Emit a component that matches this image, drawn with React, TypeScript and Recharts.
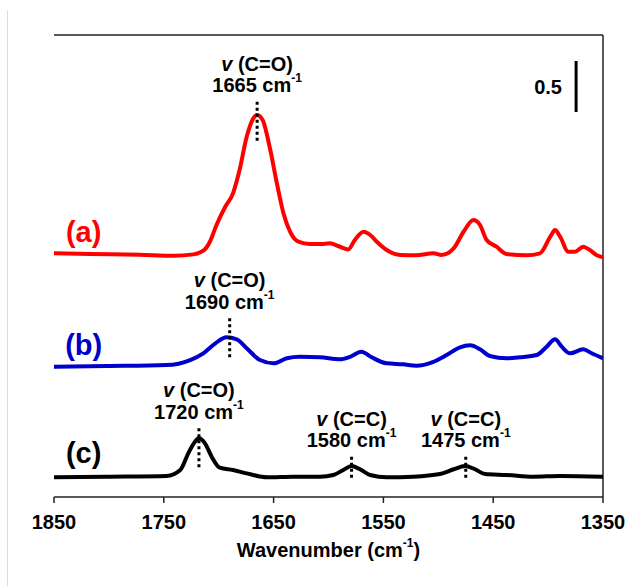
import React from "react";
import {
  LineChart,
  Line,
  XAxis,
  YAxis,
  ReferenceLine,
  ReferenceDot,
} from "recharts";

const FONT = "'Liberation Sans', Arial, sans-serif";

const xTicks = [1850, 1750, 1650, 1550, 1450, 1350];
const yMax = 4.53;

// (a) red spectrum
const redWn = [
  1850, 1817, 1772, 1741, 1723, 1714, 1708, 1702, 1694, 1687, 1681, 1674.5,
  1668.5, 1665, 1660, 1653, 1647, 1641, 1635, 1627.5, 1617, 1607, 1599,
  1589.5, 1582, 1576, 1568, 1562, 1556, 1547, 1535, 1520, 1504.5, 1497, 1486,
  1477, 1468, 1462, 1456, 1447, 1437.7, 1419.5, 1407.4, 1398, 1393.7, 1389,
  1381.6, 1375.5, 1368, 1362, 1356, 1350,
];
const redAbs = [
  2.389, 2.382, 2.375, 2.366, 2.379, 2.415, 2.503, 2.667, 2.846, 2.977, 3.206,
  3.532, 3.713, 3.745, 3.696, 3.402, 3.075, 2.781, 2.601, 2.503, 2.48, 2.48,
  2.487, 2.454, 2.428, 2.52, 2.601, 2.569, 2.503, 2.422, 2.373, 2.37, 2.389,
  2.373, 2.438, 2.601, 2.716, 2.667, 2.52, 2.454, 2.382, 2.37, 2.389, 2.552,
  2.618, 2.552, 2.405, 2.405, 2.454, 2.422, 2.373, 2.35,
];

// (b) blue spectrum
const blueWn = [
  1850, 1802, 1747.5, 1726, 1714, 1703, 1693, 1683.6, 1674.5, 1662.4, 1650,
  1638, 1626, 1607.7, 1589.5, 1580.4, 1570, 1560.7, 1547, 1532, 1520, 1504.5,
  1492.4, 1480.2, 1471, 1462, 1453, 1437.7, 1425.6, 1410.4, 1401.3, 1393.7,
  1387.6, 1380, 1368, 1360.3, 1350,
];
const blueAbs = [
  1.277, 1.284, 1.294, 1.343, 1.409, 1.507, 1.566, 1.546, 1.458, 1.343, 1.311,
  1.36, 1.375, 1.37, 1.35, 1.375, 1.425, 1.37, 1.311, 1.301, 1.287, 1.326,
  1.392, 1.468, 1.487, 1.448, 1.382, 1.36, 1.37, 1.392, 1.474, 1.546, 1.474,
  1.409, 1.448, 1.409, 1.36,
];

// (c) black spectrum
const blackWn = [
  1850, 1802, 1747.5, 1735, 1727.7, 1721.6, 1718, 1712.5, 1706.4, 1699, 1687,
  1674.5, 1656, 1632, 1607.7, 1595.6, 1586.5, 1579, 1571.3, 1562, 1547,
  1522.8, 1498.5, 1486, 1475.7, 1466.6, 1457.5, 1437.7, 1413.5, 1389, 1350,
];
const blackAbs = [
  0.193, 0.199, 0.206, 0.265, 0.428, 0.542, 0.575, 0.526, 0.395, 0.287, 0.265,
  0.232, 0.193, 0.199, 0.199, 0.216, 0.265, 0.304, 0.272, 0.216, 0.193, 0.199,
  0.225, 0.272, 0.304, 0.272, 0.225, 0.216, 0.199, 0.206, 0.199,
];

// peak annotations
const peakWn = [1665, 1690, 1718, 1579, 1475];
const peakBond = ["C=O", "C=O", "C=O", "C=C", "C=C"];
const peakText = ["1665", "1690", "1720", "1580", "1475"];
const peakTop = [3.875, 1.752, 0.673, 0.395, 0.395];
const peakBottom = [3.483, 1.35, 0.265, 0.167, 0.167];

// series tags
const tagText = ["(a)", "(b)", "(c)"];
const tagAbs = [2.6, 1.49, 0.43];
const tagColor = ["#ff0000", "#0000cc", "#000000"];
const tagWn = 1823;

// scale bar
const barWn = 1374.5;
const barFrom = 3.775;
const barTo = 4.275;

const toPoints = (wn: number[], abs: number[]) =>
  wn.map((w, i) => ({ wn: w, abs: abs[i] }));

const redData = toPoints(redWn, redAbs);
const blueData = toPoints(blueWn, blueAbs);
const blackData = toPoints(blackWn, blackAbs);

function PeakLabel(props: any) {
  const { viewBox, bond, num } = props;
  if (!viewBox) return null;
  const x = viewBox.x;
  const y = viewBox.y;
  return (
    <g fontFamily={FONT} fontWeight="bold" fontSize={20} fill="#000">
      <text x={x} y={y - 38} textAnchor="middle" dominantBaseline="central">
        <tspan fontStyle="italic">v</tspan> ({bond})
      </text>
      <text x={x} y={y - 16.5} textAnchor="middle" dominantBaseline="central">
        {num} cm
        <tspan dy={-7} fontSize={12}>
          -1
        </tspan>
      </text>
    </g>
  );
}

function TagLabel(props: any) {
  const { viewBox, text, color } = props;
  if (!viewBox) return null;
  return (
    <text
      x={viewBox.x}
      y={viewBox.y}
      textAnchor="middle"
      dominantBaseline="central"
      fontFamily={FONT}
      fontWeight="bold"
      fontSize={29}
      fill={color}
    >
      {text}
    </text>
  );
}

function ScaleText(props: any) {
  const { viewBox } = props;
  if (!viewBox) return null;
  return (
    <text
      x={viewBox.x}
      y={viewBox.y}
      textAnchor="middle"
      dominantBaseline="central"
      fontFamily={FONT}
      fontWeight="bold"
      fontSize={20}
      fill="#000"
    >
      0.5
    </text>
  );
}

function XTitle(props: any) {
  const { viewBox } = props;
  if (!viewBox) return null;
  return (
    <text
      x={viewBox.x + viewBox.width / 2}
      y={viewBox.y + 53}
      textAnchor="middle"
      dominantBaseline="central"
      fontFamily={FONT}
      fontWeight="bold"
      fontSize={20}
      fill="#000"
    >
      Wavenumber (cm
      <tspan dy={-7} fontSize={12}>
        -1
      </tspan>
      <tspan dy={7}>)</tspan>
    </text>
  );
}

function YTitle(props: any) {
  const { viewBox } = props;
  if (!viewBox) return null;
  const x = viewBox.x - 30;
  const y = viewBox.y + viewBox.height / 2;
  return (
    <text
      x={x}
      y={y}
      transform={`rotate(-90, ${x}, ${y})`}
      textAnchor="middle"
      dominantBaseline="central"
      fontFamily={FONT}
      fontWeight="bold"
      fontSize={20}
      fill="#000"
    >
      Absorbance (a. u.)
    </text>
  );
}

export default function App() {
  return (
    <div
      style={{
        position: "fixed",
        left: 0,
        top: 0,
        width: 626,
        height: 586,
        background: "#fff",
      }}
    >
      <div
        style={{
          position: "absolute",
          left: 7,
          top: 10,
          width: 1,
          height: 576,
          background: "#dcdcdc",
        }}
      />
      <LineChart
        width={626}
        height={586}
        margin={{ top: 35, right: 23, bottom: 59, left: 54 }}
      >
        <XAxis
          dataKey="wn"
          type="number"
          domain={[1350, 1850]}
          reversed
          ticks={xTicks}
          interval={0}
          height={30}
          tickSize={6}
          tickMargin={12}
          axisLine={{ stroke: "#222", strokeWidth: 1.5 }}
          tickLine={{ stroke: "#222", strokeWidth: 1.5 }}
          tick={{ fill: "#000", fontSize: 20, fontWeight: "bold", fontFamily: FONT }}
          allowDataOverflow
          label={<XTitle />}
        />
        <YAxis
          type="number"
          domain={[0, yMax]}
          width={0}
          tick={false}
          tickLine={false}
          axisLine={{ stroke: "#222", strokeWidth: 1.5 }}
          allowDataOverflow
          label={<YTitle />}
        />
        <ReferenceLine y={yMax} stroke="#222" strokeWidth={1.5} />
        <ReferenceLine x={1350} stroke="#222" strokeWidth={1.5} />

        <Line
          data={redData}
          dataKey="abs"
          type="monotone"
          stroke="#ff0000"
          strokeWidth={4}
          dot={false}
          isAnimationActive={false}
        />
        <Line
          data={blueData}
          dataKey="abs"
          type="monotone"
          stroke="#0000cc"
          strokeWidth={4}
          dot={false}
          isAnimationActive={false}
        />
        <Line
          data={blackData}
          dataKey="abs"
          type="monotone"
          stroke="#000000"
          strokeWidth={4}
          dot={false}
          isAnimationActive={false}
        />

        {peakWn.map((w, i) => (
          <ReferenceLine
            key={`pl${i}`}
            segment={[
              { x: w, y: peakTop[i] },
              { x: w, y: peakBottom[i] },
            ]}
            stroke="#000"
            strokeWidth={3}
            strokeDasharray="3 3"
          />
        ))}
        {peakWn.map((w, i) => (
          <ReferenceDot
            key={`pd${i}`}
            x={w}
            y={peakTop[i]}
            r={0}
            fill="none"
            stroke="none"
            label={<PeakLabel bond={peakBond[i]} num={peakText[i]} />}
          />
        ))}
        {tagText.map((t, i) => (
          <ReferenceDot
            key={`tg${i}`}
            x={tagWn}
            y={tagAbs[i]}
            r={0}
            fill="none"
            stroke="none"
            label={<TagLabel text={t} color={tagColor[i]} />}
          />
        ))}
        <ReferenceLine
          segment={[
            { x: barWn, y: barFrom },
            { x: barWn, y: barTo },
          ]}
          stroke="#000"
          strokeWidth={3}
        />
        <ReferenceDot
          x={1400}
          y={(barFrom + barTo) / 2}
          r={0}
          fill="none"
          stroke="none"
          label={<ScaleText />}
        />
      </LineChart>
    </div>
  );
}
